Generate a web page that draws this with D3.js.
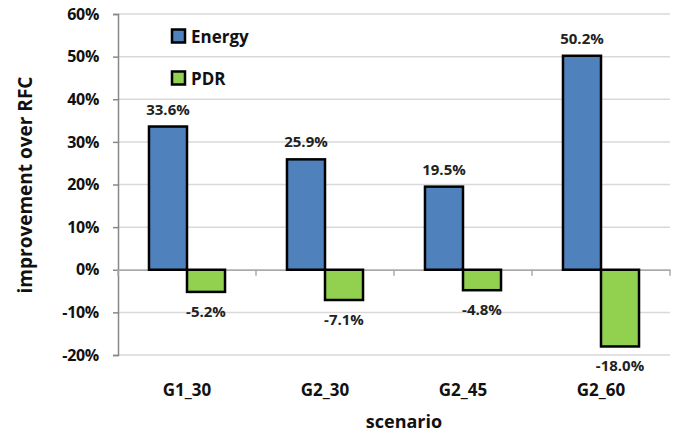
<!DOCTYPE html>
<html><head><meta charset="utf-8">
<script src="https://cdn.jsdelivr.net/npm/d3@7/dist/d3.min.js"></script>
<style>body{margin:0;background:#fff}svg{display:block}text{font-family:"Open Sans","Noto Sans",sans-serif}</style>
</head><body>
<svg id="c" width="686" height="435"></svg>
<script>
const categories = ["G1_30","G2_30","G2_45","G2_60"];
const seriesNames = ["Energy","PDR"];
const energy = [33.6, 25.9, 19.5, 50.2];
const pdr = [-5.2, -7.1, -4.8, -18.0];
const yTicks = [-20,-10,0,10,20,30,40,50,60];
const colors = ["#4F81BD","#92D050"];

const svg = d3.select("#c");
const m = {l:118, r:670, t:14, b:355};
const x = d3.scaleBand().domain(categories).range([m.l, m.r]).paddingInner(0).paddingOuter(0);
const inner = d3.scaleBand().domain(seriesNames).range([0, x.bandwidth()]).paddingInner(0).paddingOuter(0.815);
const y = d3.scaleLinear().domain([-20,60]).range([m.b, m.t]);

// gridlines
svg.append("g").selectAll("line").data(yTicks).join("line")
  .attr("x1", m.l).attr("x2", m.r).attr("y1", d=>y(d)).attr("y2", d=>y(d))
  .attr("stroke", "#d9d9d9").attr("stroke-width", 1.5);

// y axis
const ya = svg.append("g").attr("transform", `translate(${m.l},0)`)
  .call(d3.axisLeft(y).tickValues(yTicks).tickFormat(d=>d+"%").tickSize(5).tickPadding(14));
ya.select(".domain").attr("stroke","#888").attr("stroke-width",1.5);
ya.selectAll(".tick line").attr("stroke","#888").attr("stroke-width",1.5);
ya.selectAll("text").attr("font-size",16).attr("font-weight","bold").attr("fill","#111")
  .style("font-family","'Open Sans',sans-serif").attr("letter-spacing","-0.3");

// x axis at 0
const xa = svg.append("g").attr("transform", `translate(0,${y(0)})`)
  .call(d3.axisBottom(x).tickSize(0).tickFormat(""));
xa.select(".domain").attr("stroke","#aaa").attr("stroke-width",1.5);
svg.append("g").selectAll("line").data(d3.range(categories.length+1)).join("line")
  .attr("x1", i=>m.l + i*x.step()).attr("x2", i=>m.l + i*x.step())
  .attr("y1", y(0)).attr("y2", y(0)+6).attr("stroke","#aaa").attr("stroke-width",1.5);

// category labels
svg.append("g").selectAll("text").data(categories).join("text")
  .attr("x", d=>x(d)+x.bandwidth()/2).attr("y", 396)
  .attr("text-anchor","middle").attr("font-size",17).attr("font-weight","bold").attr("fill","#111")
  .text(d=>d);

const data = categories.map((c,i)=>({c, vals:[{s:"Energy",v:energy[i]},{s:"PDR",v:pdr[i]}]}));
const g = svg.append("g").selectAll("g").data(data).join("g").attr("transform", d=>`translate(${x(d.c)},0)`);
g.selectAll("rect").data(d=>d.vals).join("rect")
  .attr("x", d=>inner(d.s)).attr("width", inner.bandwidth())
  .attr("y", d=>y(Math.max(0,d.v))).attr("height", d=>Math.abs(y(d.v)-y(0)))
  .attr("fill", (d,i)=>colors[i]).attr("stroke","#000").attr("stroke-width",2.5);
g.selectAll("text").data(d=>d.vals).join("text")
  .attr("x", d=>inner(d.s)+inner.bandwidth()/2)
  .attr("y", d=> d.v>=0 ? y(d.v)-12 : y(d.v)+25)
  .attr("text-anchor","middle").attr("font-size",15).attr("font-weight","bold").attr("fill","#222")
  .text(d=>d.v.toFixed(1)+"%");

// legend
const lg = svg.append("g").selectAll("g").data(seriesNames).join("g")
  .attr("transform",(d,i)=>`translate(172,${29.5+i*42})`);
lg.append("rect").attr("width",13).attr("height",13).attr("fill",(d,i)=>colors[i])
  .attr("stroke","#000").attr("stroke-width",2.5);
lg.append("text").attr("x",19).attr("y",13).attr("font-size",17).attr("font-weight","bold").attr("fill","#111").text(d=>d);

// axis titles
svg.append("text").attr("transform","translate(32,185) rotate(-90)").attr("text-anchor","middle")
  .attr("font-size",19).attr("font-weight","bold").attr("fill","#111").text("improvement over RFC");
svg.append("text").attr("x",404).attr("y",428).attr("text-anchor","middle")
  .attr("font-size",18).attr("font-weight","bold").attr("fill","#111").text("scenario");
</script>
</body></html>
